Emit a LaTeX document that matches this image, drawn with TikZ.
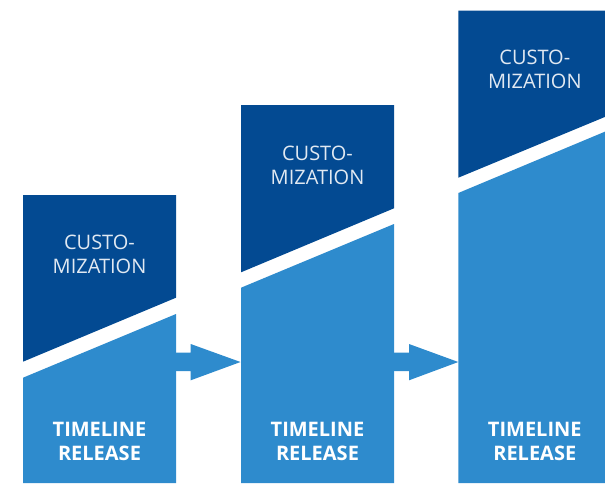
\documentclass[tikz,border=0pt]{standalone}
\usepackage{fontspec}
\setmainfont{Open Sans}
\definecolor{darkblu}{HTML}{034A92}
\definecolor{lightblu}{HTML}{2E8BCD}
\begin{document}
\begin{tikzpicture}[x=1pt,y=-1pt,
  custo/.style={text=white!88!darkblu,font=\fontsize{20}{24}\selectfont,align=center,inner sep=0pt},
  tlrel/.style={text=white,font=\fontsize{20}{24}\selectfont\bfseries,align=center,inner sep=0pt}]
\useasboundingbox (0,0) rectangle (605,483);
\clip (0,0) rectangle (605,483);
% column 1
\fill[darkblu] (23,195) -- (176,195) -- (176,297.7) -- (23,361.7) -- cycle;
\fill[lightblu] (23,377.7) -- (176,314) -- (176,483) -- (23,483) -- cycle;
% column 2
\fill[darkblu] (241,105) -- (394,105) -- (394,208.3) -- (241,272.3) -- cycle;
\fill[lightblu] (241,287.7) -- (394,224) -- (394,483) -- (241,483) -- cycle;
% column 3
\fill[darkblu] (458.3,10.7) -- (611.3,10.7) -- (611.3,114.3) -- (458.3,177.7) -- cycle;
\fill[lightblu] (458.3,193) -- (611.3,129) -- (611.3,483) -- (458.3,483) -- cycle;
% arrows
\fill[lightblu] (175,352.7) -- (190.7,352.7) -- (190.7,344) -- (240.5,362) -- (190.7,380.3) -- (190.7,371) -- (175,371) -- cycle;
\fill[lightblu] (393,352.7) -- (409,352.7) -- (409,344) -- (458.3,362) -- (409,380.3) -- (409,371) -- (393,371) -- cycle;
% texts
\node[custo] (c1) at (99.5,254) {CUSTO-\\MIZATION};
\node[custo] (c2) at (317.5,165) {CUSTO-\\MIZATION};
\node[custo] (c3) at (534.8,69) {CUSTO-\\MIZATION};
\node[tlrel] (t1) at (99.5,441) {TIMELINE\\RELEASE};
\node[tlrel] (t2) at (317.5,441) {TIMELINE\\RELEASE};
\node[tlrel] (t3) at (534.8,441) {TIMELINE\\RELEASE};
\end{tikzpicture}
\end{document}
